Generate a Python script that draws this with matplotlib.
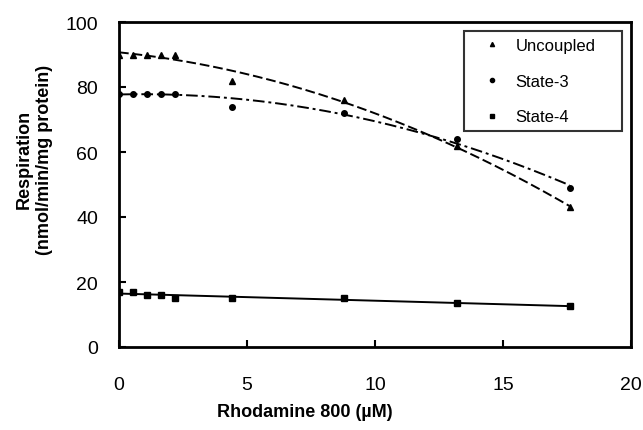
import numpy as np
import matplotlib
matplotlib.use("Agg")
import matplotlib.pyplot as plt

plt.rcParams['font.family'] = ['Liberation Sans', 'DejaVu Sans']

conc = [0, 0.55, 1.1, 1.65, 2.2, 4.4, 8.8, 13.2, 17.6]
uncoupled = [90, 90, 90, 90, 90, 82, 76, 62, 43]
state3 = [78, 78, 78, 78, 78, 74, 72, 64, 49]
state4 = [17, 17, 16, 16, 15, 15, 15, 13.5, 12.6]

fig = plt.figure(figsize=(6.43, 4.31), dpi=100)
ax = fig.add_axes([119/643, 1-348/431, (631-119)/643, (348-23)/431])

x = np.array(conc)
xs = np.linspace(0, 17.6, 200)

def fit(y, deg):
    c = np.polyfit(x, np.array(y), deg)
    return np.polyval(c, xs)

ax.plot(x, uncoupled, linestyle='none', marker='^', color='black', markersize=4, label='Uncoupled')
ax.plot(x, state3, linestyle='none', marker='o', color='black', markersize=4, label='State-3')
ax.plot(x, state4, linestyle='none', marker='s', color='black', markersize=4, label='State-4')

ax.plot(xs, fit(uncoupled, 2), color='black', lw=1.4, dashes=(5, 2))
ax.plot(xs, fit(state3, 2), color='black', lw=1.4, dashes=(6, 2, 1.5, 2))
ax.plot(xs, fit(state4, 1), color='black', lw=1.4)

ax.set_xlim(0, 20)
ax.set_ylim(0, 100)
ax.set_xticks([0, 5, 10, 15, 20])
ax.set_yticks([0, 20, 40, 60, 80, 100])
ax.tick_params(direction='in', length=5, width=1.5, labelsize=14)
ax.tick_params(axis='x', pad=21)
ax.tick_params(axis='y', pad=15)
for s in ax.spines.values():
    s.set_linewidth(2)

ax.set_xlabel('Rhodamine 800 (µM)', fontsize=13, fontweight='bold')
ax.xaxis.set_label_coords(0.363, -0.172)
ax.set_ylabel('Respiration\n(nmol/min/mg protein)', fontsize=13, fontweight='bold', linespacing=1.25)
ax.yaxis.set_label_coords(-0.128, 0.58)

leg = ax.legend(loc='upper left', bbox_to_anchor=(0.674, 0.972, 0.309, 0), mode='expand',
                fontsize=12, frameon=True, fancybox=False, edgecolor='black', markerscale=0.75,
                handletextpad=0.1, labelspacing=1.25, borderpad=0.4, handlelength=2.6,
                borderaxespad=0)
leg.get_frame().set_linewidth(1.5)

fig.savefig('out.png', dpi=100)
